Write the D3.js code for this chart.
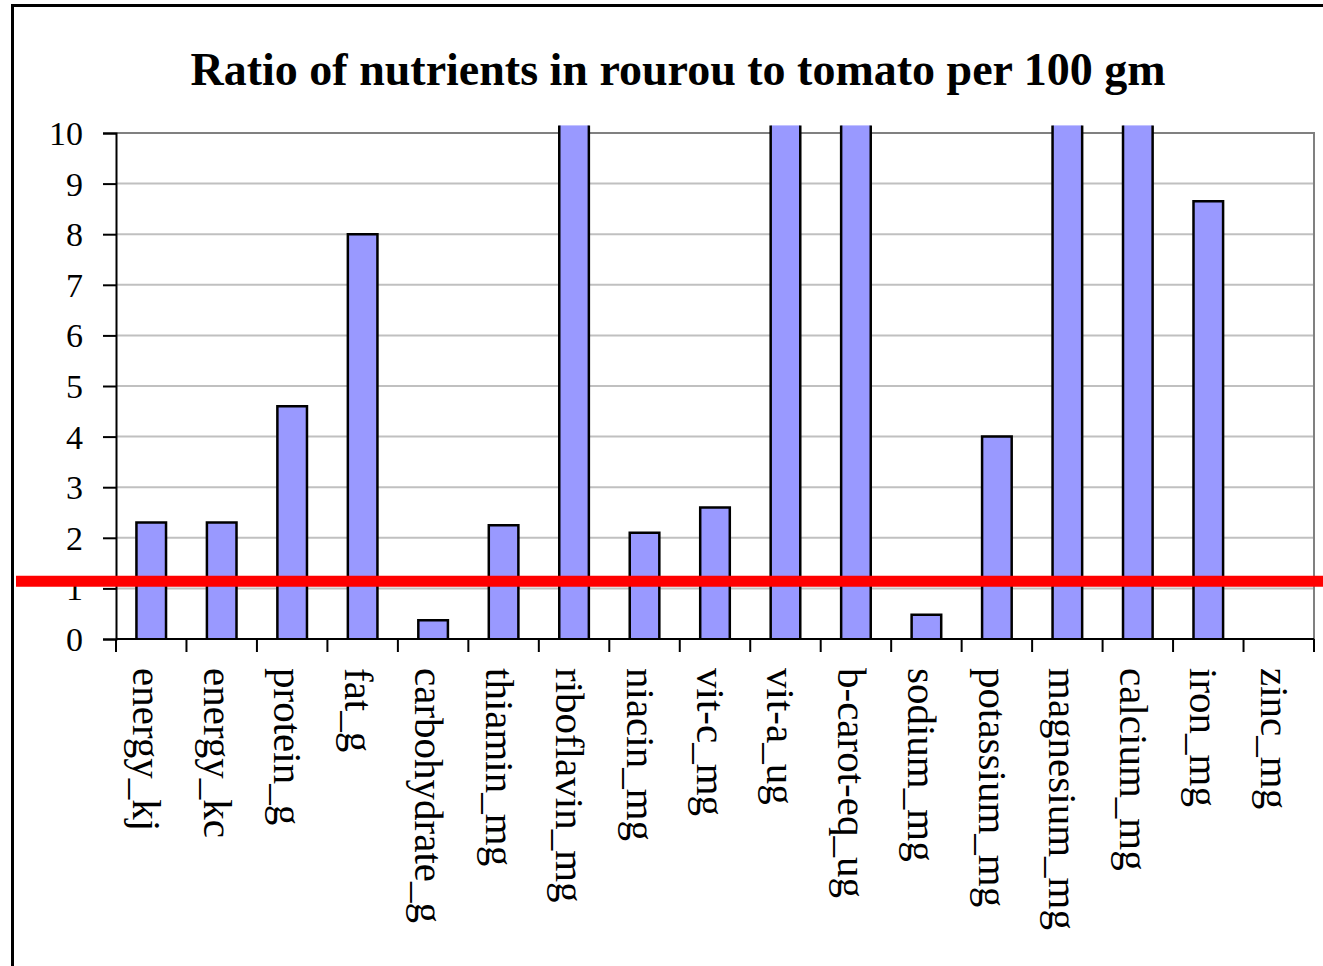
<!DOCTYPE html>
<html>
<head>
<meta charset="utf-8">
<script src="https://cdn.jsdelivr.net/npm/d3@7"></script>
<style>
  html, body { margin: 0; padding: 0; background: #ffffff; }
  svg { display: block; }
  text { font-family: "Liberation Serif", "Times New Roman", serif; fill: #000; }
</style>
</head>
<body>
<svg id="chart" width="1323" height="966"></svg>
<script>
// Nutrient categories along the x axis
const categories = [
  "energy_kj", "energy_kc", "protein_g", "fat_g", "carbohydrate_g",
  "thiamin_mg", "riboflavin_mg", "niacin_mg", "vit-c_mg", "vit-a_ug",
  "b-carot-eq_ug", "sodium_mg", "potassium_mg", "magnesium_mg",
  "calcium_mg", "iron_mg", "zinc_mg"
];

// Ratio rourou : tomato (Infinity = runs off the top of the axis, null = no value)
const ratios = [
  2.3, 2.3, 4.6, 8.0, 0.37,
  2.25, Infinity, 2.1, 2.6, Infinity,
  Infinity, 0.48, 4.0, Infinity,
  Infinity, 8.65, null
];

// Value axis ticks
const yTicks = [0, 1, 2, 3, 4, 5, 6, 7, 8, 9, 10];

// Reference level drawn across the chart
const parityLevel = [1.14];

const title = "Ratio of nutrients in rourou to tomato per 100 gm";

const svg = d3.select("#chart");
const W = 1323, H = 966;

const plot = { left: 116, right: 1314, top: 133, bottom: 639 };
const overshoot = 10.15; // bars past the axis max are cut here

const x = d3.scaleBand()
  .domain(categories)
  .range([plot.left, plot.right])
  .padding(0);

const y = d3.scaleLinear()
  .domain([0, 10])
  .range([plot.bottom, plot.top]);

// Outer chart frame (runs past the right and bottom edges)
svg.append("rect")
  .attr("x", 12.5).attr("y", 5.5)
  .attr("width", W + 20).attr("height", H + 20)
  .attr("fill", "#fff")
  .attr("stroke", "#000")
  .attr("stroke-width", 3);

// Title
svg.append("text")
  .attr("x", 678)
  .attr("y", 85)
  .attr("text-anchor", "middle")
  .attr("font-size", 46)
  .attr("font-weight", "bold")
  .text(title);

// Horizontal gridlines
svg.append("g")
  .selectAll("line")
  .data(yTicks.filter(d => d > 0 && d < 10))
  .join("line")
  .attr("x1", plot.left).attr("x2", plot.right)
  .attr("y1", d => y(d)).attr("y2", d => y(d))
  .attr("stroke", "#c0c0c0")
  .attr("stroke-width", 2);

// Plot-area border (top and right)
svg.append("path")
  .attr("d", `M${plot.left},${y(10)}H${plot.right}V${plot.bottom}`)
  .attr("fill", "none")
  .attr("stroke", "#808080")
  .attr("stroke-width", 2);

// Bars
const barW = x.bandwidth() * 0.42;
const bars = svg.append("g");
categories.forEach((c, i) => {
  const v = ratios[i];
  if (v === null) return;
  const capped = v > overshoot;
  const top = y(Math.min(v, overshoot));
  const x0 = x(c) + (x.bandwidth() - barW) / 2;
  const x1 = x0 + barW;
  bars.append("rect")
    .attr("x", x0).attr("y", top)
    .attr("width", barW).attr("height", y(0) - top)
    .attr("fill", "#9999ff");
  const outline = capped
    ? `M${x0},${top}V${y(0)}M${x1},${top}V${y(0)}`
    : `M${x0},${y(0)}V${top}H${x1}V${y(0)}`;
  bars.append("path")
    .attr("d", outline)
    .attr("fill", "none")
    .attr("stroke", "#000")
    .attr("stroke-width", 2.5);
});

// Y axis
const yAxis = svg.append("g")
  .attr("transform", `translate(${plot.left},0)`)
  .call(d3.axisLeft(y).tickValues(yTicks).tickSize(13).tickPadding(20).tickFormat(d3.format("d")));
yAxis.select(".domain").attr("stroke", "#000").attr("stroke-width", 2);
yAxis.selectAll(".tick line").attr("stroke", "#000").attr("stroke-width", 2);
yAxis.selectAll(".tick text")
  .attr("font-family", "'Liberation Serif', 'Times New Roman', serif")
  .attr("font-size", 34)
  .attr("fill", "#000")
  .attr("dy", "0.34em");

// X axis line and boundary ticks
const xAxis = svg.append("g");
xAxis.append("line")
  .attr("x1", plot.left).attr("x2", plot.right)
  .attr("y1", y(0)).attr("y2", y(0))
  .attr("stroke", "#000").attr("stroke-width", 2);
const edges = categories.map(c => x(c)).concat([x(categories[categories.length - 1]) + x.bandwidth()]);
xAxis.selectAll(".edge")
  .data(edges)
  .join("line")
  .attr("class", "edge")
  .attr("x1", d => d).attr("x2", d => d)
  .attr("y1", y(0)).attr("y2", y(0) + 13)
  .attr("stroke", "#000").attr("stroke-width", 2);

// Category labels, rotated to read downward
xAxis.selectAll(".cat")
  .data(categories)
  .join("text")
  .attr("class", "cat")
  .attr("font-size", 41)
  .attr("transform", d => `translate(${x(d) + x.bandwidth() / 2 - 18},${y(0) + 29}) rotate(90)`)
  .attr("text-anchor", "start")
  .text(d => d);

// Red reference band across the chart
svg.append("g")
  .selectAll("line")
  .data(parityLevel)
  .join("line")
  .attr("x1", 16).attr("x2", W)
  .attr("y1", d => y(d)).attr("y2", d => y(d))
  .attr("stroke", "#ff0000")
  .attr("stroke-width", 11);
</script>
</body>
</html>
